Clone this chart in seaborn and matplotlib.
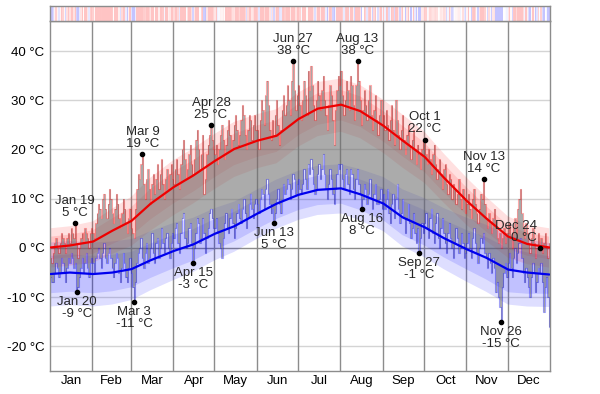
import numpy as np
import pandas as pd
import matplotlib
matplotlib.use("Agg")
import matplotlib.pyplot as plt
import seaborn as sns
from matplotlib.colors import LinearSegmentedColormap

# daily high / low temperatures (°C), one list per month
jan_hi = [-2, -3, -1, 1, 2, 0, -1, 1, 3, 2, 1, -1, 2, 3, 1, 4, 3, 2, 5, 1, -2, 0, 2, 3, 1, 4, 3, 2, 0, 3, 4]
jan_lo = [-6, -7, -7, -5, -3, -4, -6, -5, -2, -3, -5, -7, -4, -2, -3, -1, -2, -4, -3, -9, -8, -6, -4, -2, -5, -3, -1, -4, -6, -3, -2]
feb_hi = [3, 2, 5, 7, 9, 8, 6, 10, 11, 8, 6, 9, 12, 10, 7, 5, 8, 11, 9, 6, 4, 7, 10, 8, 5, 3, 6, 8]
feb_lo = [-3, -5, -2, -1, 0, -2, -4, -1, 1, -2, -3, -1, 0, -2, -4, -6, -3, -1, -2, -5, -7, -4, -1, -3, -6, -7, -4, -2]
mar_hi = [4, 3, 2, 8, 12, 15, 14, 17, 19, 13, 10, 14, 16, 12, 9, 13, 15, 11, 14, 17, 12, 15, 18, 13, 10, 14, 16, 12, 15, 17, 14]
mar_lo = [-5, -8, -11, -7, -3, -1, 0, 2, -2, -4, -1, 1, -3, -2, 0, 3, -1, -3, 1, 2, -2, 0, 4, 1, -1, 2, 3, 0, -2, 1, 3]
apr_hi = [13, 16, 18, 15, 12, 17, 20, 22, 18, 14, 16, 19, 21, 17, 15, 18, 22, 24, 20, 16, 19, 23, 11, 14, 19, 21, 23, 25, 22, 20]
apr_lo = [2, 4, 5, 1, -1, 3, 6, 7, 2, 0, 1, 4, 5, 1, -3, 0, 3, 6, 5, 1, 2, 6, 3, -1, 2, 4, 7, 8, 6, 4]
may_hi = [19, 21, 17, 20, 23, 25, 22, 18, 21, 24, 26, 23, 20, 22, 25, 27, 24, 21, 23, 26, 29, 27, 23, 20, 24, 27, 26, 22, 25, 27, 24]
may_lo = [4, 6, 3, 1, 0, -2, 2, 5, 7, 4, 3, 6, 8, 5, 2, 4, 7, 9, 6, 5, 8, 10, 7, 4, 6, 9, 11, 8, 6, 9, 10]
jun_hi = [24, 20, 26, 30, 28, 25, 31, 34, 29, 24, 22, 26, 23, 27, 30, 25, 21, 24, 28, 31, 27, 29, 33, 30, 27, 34, 38, 32, 28, 31]
jun_lo = [9, 7, 10, 12, 11, 8, 12, 14, 11, 9, 7, 8, 5, 7, 10, 12, 9, 7, 10, 13, 11, 12, 14, 13, 10, 12, 15, 14, 11, 13]
jul_hi = [33, 29, 26, 30, 34, 31, 27, 36, 32, 37, 33, 29, 26, 30, 34, 31, 28, 32, 35, 30, 27, 24, 29, 33, 31, 26, 21, 28, 32, 35, 33]
jul_lo = [14, 12, 11, 13, 16, 14, 12, 17, 15, 18, 16, 13, 11, 12, 15, 17, 14, 16, 19, 15, 12, 10, 13, 16, 14, 11, 9, 12, 15, 17, 16]
aug_hi = [36, 31, 27, 30, 34, 32, 28, 35, 33, 29, 26, 33, 38, 34, 30, 25, 28, 32, 29, 26, 30, 33, 27, 24, 28, 31, 26, 23, 27, 30, 25]
aug_lo = [17, 14, 12, 15, 16, 13, 11, 16, 15, 12, 10, 14, 16, 13, 11, 8, 10, 13, 12, 9, 11, 14, 10, 8, 11, 13, 9, 9, 10, 12, 8]
sep_hi = [27, 24, 28, 25, 22, 26, 29, 24, 21, 30, 26, 23, 20, 24, 27, 22, 19, 23, 25, 21, 18, 22, 24, 20, 17, 21, 19, 16, 20, 22]
sep_lo = [11, 8, 10, 12, 7, 5, 9, 11, 6, 10, 13, 8, 5, 7, 10, 6, 3, 6, 9, 5, 2, 4, 7, 3, 1, 4, -1, 2, 5, 3]
oct_hi = [22, 19, 17, 20, 18, 15, 19, 21, 17, 14, 16, 18, 15, 12, 16, 17, 13, 11, 15, 14, 10, 13, 12, 9, 11, 14, 10, 8, 12, 10, 7]
oct_lo = [5, 7, 4, 2, 6, 8, 3, 1, 5, 7, 2, 0, 4, 6, 3, 1, -1, 3, 5, 2, 0, -2, 1, 4, 2, -1, 0, 3, 1, -2, -1]
nov_hi = [9, 11, 8, 6, 10, 12, 9, 7, 5, 8, 11, 10, 14, 9, 6, 4, 7, 5, 3, 6, 8, 4, 2, 1, 3, 0, 2, 4, 1, 3]
nov_lo = [1, 3, 0, -2, 2, 4, 1, -1, -3, 0, 2, 1, 3, -1, -2, -4, -1, -3, -5, -2, -4, -9, -7, -10, -12, -15, -8, -5, -3, -6]
dec_hi = [3, 5, 2, 0, 4, 6, 3, 8, 10, 12, 7, 4, 2, 5, 3, 1, -1, 2, 4, 1, -2, 0, 3, 0, 2, -1, 1, 3, 0, -2, 1]
dec_lo = [-3, -1, -4, -6, -2, 0, -3, -1, 1, 2, -2, -5, -7, -4, -6, -8, -10, -6, -3, -5, -9, -7, -4, -5, -3, -7, -13, -8, -6, -10, -16]

highs = np.array(jan_hi + feb_hi + mar_hi + apr_hi + may_hi + jun_hi
                 + jul_hi + aug_hi + sep_hi + oct_hi + nov_hi + dec_hi)
lows = np.array(jan_lo + feb_lo + mar_lo + apr_lo + may_lo + jun_lo
                + jul_lo + aug_lo + sep_lo + oct_lo + nov_lo + dec_lo)

# normals, sampled on the 1st and 15th of each month (day of year, 0 = Jan 1)
node_day = [0, 14, 31, 45, 59, 73, 90, 104, 120, 134, 151, 165, 181, 195,
            212, 226, 243, 257, 273, 287, 304, 318, 334, 348, 364]
avg_high = [0.1, 0.5, 1.3, 3.5, 5.5, 9.0, 12.4, 14.7, 17.7, 20.1, 21.8, 22.8, 26.2,
            28.3, 29.1, 27.8, 24.8, 21.8, 18.5, 14.3, 9.5, 6.0, 2.3, 0.8, 0.1]
avg_low = [-5.3, -5.0, -5.3, -5.0, -4.3, -2.5, -0.6, 0.7, 2.9, 4.4, 7.0, 9.0, 10.8,
           11.8, 12.1, 10.9, 9.0, 6.2, 4.2, 2.0, -0.3, -2.0, -4.4, -5.0, -5.4]
# half widths of the 10-90 and 25-75 percentile bands
hi_out = [4.0, 4.0, 4.2, 4.6, 5.0, 5.4, 5.6, 5.6, 5.6, 5.6, 5.5, 5.5, 5.5,
          5.5, 5.4, 5.4, 5.4, 5.4, 5.2, 5.0, 4.8, 4.5, 4.2, 4.0, 4.0]
hi_in = [2.3, 2.3, 2.4, 2.6, 2.9, 3.1, 3.2, 3.2, 3.2, 3.2, 3.2, 3.2, 3.2,
         3.2, 3.1, 3.1, 3.1, 3.1, 3.0, 2.9, 2.8, 2.6, 2.4, 2.3, 2.3]
lo_out = [6.5, 6.5, 6.5, 6.4, 6.2, 6.0, 5.8, 5.5, 5.3, 5.1, 5.0, 5.0, 5.0,
          5.0, 5.0, 5.2, 5.5, 5.8, 6.0, 6.2, 6.5, 6.8, 7.0, 6.8, 6.5]
lo_in = [3.8, 3.8, 3.8, 3.7, 3.6, 3.5, 3.4, 3.2, 3.1, 3.0, 3.0, 3.0, 3.0,
         3.0, 3.0, 3.1, 3.3, 3.5, 3.6, 3.8, 4.0, 4.3, 4.5, 4.2, 3.8]

month_names = ["Jan", "Feb", "Mar", "Apr", "May", "Jun",
               "Jul", "Aug", "Sep", "Oct", "Nov", "Dec"]
month_days = [31, 28, 31, 30, 31, 30, 31, 31, 30, 31, 30, 31]

# labelled extremes
ann_dates = ["2013-01-19", "2013-01-20", "2013-03-03", "2013-03-09", "2013-04-15",
             "2013-04-28", "2013-06-13", "2013-06-27", "2013-08-13", "2013-08-16",
             "2013-09-27", "2013-10-01", "2013-11-13", "2013-11-26", "2013-12-24"]
ann_kind = ["high", "low", "low", "high", "low", "high", "low", "high",
            "high", "low", "low", "high", "high", "low", "high"]

sns.set_style("white")
plt.rcParams["font.family"] = ["Liberation Sans", "DejaVu Sans"]
FS = 9.5

fig = plt.figure(figsize=(6, 3.94), dpi=100)
ax = fig.add_axes([50 / 600, 23 / 394, 500 / 600, 350 / 394])
ax_strip = fig.add_axes([50 / 600, 373 / 394, 500 / 600, 15 / 394])

nd = np.array(node_day)
ah, al = np.array(avg_high), np.array(avg_low)

# percentile bands
ax.fill_between(nd, al - np.array(lo_out), al + np.array(lo_out), color="blue", alpha=0.13, lw=0, zorder=1)
ax.fill_between(nd, al - np.array(lo_in), al + np.array(lo_in), color="blue", alpha=0.13, lw=0, zorder=1)
ax.fill_between(nd, ah - np.array(hi_out), ah + np.array(hi_out), color="red", alpha=0.12, lw=0, zorder=1)
ax.fill_between(nd, ah - np.array(hi_in), ah + np.array(hi_in), color="red", alpha=0.12, lw=0, zorder=1)

# daily low-high bars
edges = np.arange(len(highs) + 1)
hi_ext = np.append(highs, highs[-1])
lo_ext = np.append(lows, lows[-1])
ax.fill_between(edges, lo_ext, hi_ext, step="post", color="#6e6e6e", alpha=0.58, lw=0, zorder=2)
ax.step(edges, hi_ext, where="post", color="red", alpha=0.32, lw=0.8, zorder=2.5)
ax.step(edges, lo_ext, where="post", color="blue", alpha=0.32, lw=0.8, zorder=2.5)

# average high / low
sns.lineplot(x=nd + 0.5, y=ah, color="#ee0000", lw=1.6, ax=ax, zorder=3)
sns.lineplot(x=nd + 0.5, y=al, color="#0000ee", lw=1.6, ax=ax, zorder=3)

# grid lines
for t in range(-20, 50, 10):
    ax.axhline(t, color="#8c8c8c" if t == 0 else "#d4d4d4", lw=1, zorder=0.5)
month_start = np.cumsum([0] + month_days)
for m in month_start[1:-1]:
    ax.axvline(m, color="#8c8c8c", lw=1, zorder=0.6)

# annotations
for d, kind in zip(ann_dates, ann_kind):
    ts = pd.Timestamp(d)
    idx = ts.dayofyear - 1
    val = highs[idx] if kind == "high" else lows[idx]
    label = f"{ts:%b} {ts.day}\n{val} °C"
    ax.plot(idx + 0.5, val, "o", color="black", ms=3, zorder=5)
    if d.endswith("12-24"):
        ax.annotate(label, (idx + 0.5, val), xytext=(-2, 3), textcoords="offset points",
                    ha="right", va="bottom", multialignment="right", fontsize=FS, linespacing=1.0, zorder=6)
    elif kind == "high":
        ax.annotate(label, (idx + 0.5, val), xytext=(0, 3), textcoords="offset points",
                    ha="center", va="bottom", multialignment="center", fontsize=FS, linespacing=1.0, zorder=6)
    else:
        ax.annotate(label, (idx + 0.5, val), xytext=(0, -3), textcoords="offset points",
                    ha="center", va="top", multialignment="center", fontsize=FS, linespacing=1.0, zorder=6)

ax.set_xlim(0, 365)
ax.set_ylim(-25, 46.1)
ax.set_yticks(range(-20, 50, 10))
ax.set_yticklabels([f"{t} °C" for t in range(-20, 50, 10)])
ax.set_xticks(month_start[:-1] + np.array(month_days) / 2)
ax.set_xticklabels(month_names)
ax.tick_params(length=0, labelsize=FS, colors="black")
ax.tick_params(axis="y", pad=4)
ax.tick_params(axis="x", pad=3)
ax.set_xlabel("")
ax.set_ylabel("")
for s in ax.spines.values():
    s.set_color("#8c8c8c")
    s.set_linewidth(1)

# anomaly strip on top
ah_day = np.interp(np.arange(len(highs)) + 0.5, nd, ah)
al_day = np.interp(np.arange(len(lows)) + 0.5, nd, al)
anom = ((highs - ah_day) + (lows - al_day)) / 2
cmap = LinearSegmentedColormap.from_list("anom", ["#c4c4ff", "#ffffff", "#ffc4c4"])
ax_strip.imshow(anom[None, :], aspect="auto", cmap=cmap, vmin=-2.5, vmax=2.5,
                extent=(0, 365, 0, 1), interpolation="nearest")
ax_strip.set_xticks([])
ax_strip.set_yticks([])
for s in ax_strip.spines.values():
    s.set_color("#8c8c8c")
    s.set_linewidth(1)

fig.savefig("out.png", dpi=100)
